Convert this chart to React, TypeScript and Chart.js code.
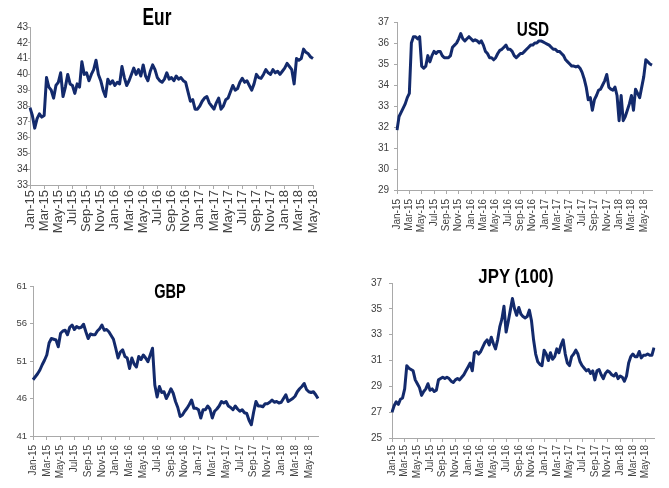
import React, { useEffect, useRef } from 'react';
import { Chart, registerables } from 'chart.js';

Chart.register(...registerables);

const MONTHS = ['Jan', 'Feb', 'Mar', 'Apr', 'May', 'Jun', 'Jul', 'Aug', 'Sep', 'Oct', 'Nov', 'Dec'];
const POINTS_PER_MONTH = 3;
const FIRST_YEAR = 15;

// Eur: Jan-15 .. May-18 (3 readings per month)
const EUR = [
  37.9, 37.4, 36.6, 37.2, 37.5, 37.3, 37.4, 39.8, 39.2, 39.0, 38.5, 39.3,
  39.5, 40.1, 38.6, 39.2, 40.0, 39.4, 39.3, 38.8, 39.4, 39.2, 40.8, 40.0,
  40.1, 39.6, 40.0, 40.3, 40.9, 40.0, 39.6, 39.0, 38.6, 39.7, 39.4, 39.6,
  39.3, 39.5, 39.4, 40.5, 39.8, 39.3, 39.6, 40.0, 40.4, 40.0, 40.3, 39.9,
  40.6, 39.9, 39.6, 40.2, 40.6, 40.3, 39.8, 39.6, 39.5, 39.7, 40.1, 39.7,
  39.8, 39.6, 39.9, 39.7, 39.8, 39.6, 39.5, 38.9, 38.3, 38.4, 37.8, 37.8,
  38.0, 38.3, 38.5, 38.6, 38.2, 38.0, 37.8, 38.2, 38.5, 37.8, 38.0, 38.4,
  38.5, 38.9, 39.3, 39.0, 39.1, 39.5, 39.75, 39.5, 39.6, 39.3, 39.0, 39.4,
  40.0, 39.8, 39.75, 40.0, 40.3, 40.1, 40.0, 40.3, 40.1, 40.2, 40.0, 40.2,
  40.4, 40.7, 40.5, 40.3, 39.4, 41.0, 40.9, 41.0, 41.6, 41.4, 41.3, 41.1,
  41.0,
];

// USD: Jan-15 .. mid Jun-18
const USD = [
  31.85, 32.5, 32.7, 32.9, 33.1, 33.4, 33.6, 36.0, 36.3, 36.3, 36.2, 36.3,
  34.9, 34.8, 34.9, 35.4, 35.1, 35.4, 35.6, 35.5, 35.6, 35.6, 35.4, 35.3,
  35.3, 35.3, 35.4, 35.8, 35.9, 36.0, 36.2, 36.45, 36.2, 36.1, 36.2, 36.3,
  36.2, 36.1, 36.15, 36.1, 36.0, 36.1, 35.9, 35.6, 35.5, 35.3, 35.3, 35.2,
  35.3, 35.5, 35.65, 35.7, 35.8, 35.9, 35.7, 35.7, 35.6, 35.4, 35.3, 35.4,
  35.5, 35.5, 35.6, 35.7, 35.8, 35.9, 35.9, 36.0, 36.0, 36.1, 36.1, 36.05,
  36.0, 35.95, 35.9, 35.8, 35.7, 35.7, 35.6, 35.6, 35.5, 35.4, 35.2, 35.1,
  35.0, 34.9, 34.9, 34.86, 34.9, 34.8, 34.6, 34.3, 33.9, 33.3, 33.4, 32.8,
  33.3, 33.5, 33.75, 33.8, 34.0, 34.2, 34.5, 33.9, 33.8, 33.75, 33.9, 33.5,
  32.3, 33.5, 32.3, 32.5, 32.8, 33.1, 33.5, 32.8, 33.8, 33.6, 33.4, 33.9,
  34.4, 35.2, 35.1, 35.0, 34.95,
];

// GBP: Jan-15 .. mid Jun-18
const GBP = [
  48.5, 48.9, 49.3, 49.8, 50.5, 51.1, 51.8, 53.4, 54.0, 53.9, 53.8, 52.9,
  54.7, 55.0, 55.1, 54.5, 55.5, 55.8, 55.2, 55.6, 55.4, 55.5, 55.9, 54.9,
  54.0, 54.6, 54.5, 54.5, 55.0, 55.3, 55.8, 55.1, 55.2, 54.9, 54.4, 53.9,
  52.7, 51.4, 52.2, 52.5, 51.6, 51.4, 50.0, 51.4, 50.6, 50.2, 51.6, 51.2,
  51.8, 51.4, 50.9, 51.8, 52.7, 47.8, 46.2, 47.6, 46.8, 46.9, 46.0, 46.6,
  47.3, 46.7, 45.6, 44.8, 43.6, 43.8, 44.3, 44.7, 45.2, 45.8, 44.7, 44.7,
  44.5, 43.4, 44.5, 44.5, 45.0, 44.6, 43.4, 44.3, 44.6, 45.0, 45.6, 45.4,
  45.6, 45.0, 44.8, 44.5, 45.0, 44.6, 44.3, 44.5, 44.1, 44.0, 43.1, 42.5,
  44.2, 45.6, 45.0, 45.0, 44.9, 45.3, 45.3, 45.5, 45.8, 45.5, 45.6, 45.4,
  45.5, 46.0, 46.5, 45.6, 45.8, 46.0, 46.3, 46.9, 47.3, 47.6, 48.0, 47.2,
  46.9, 46.8, 46.9, 46.5, 46.0,
];

// JPY (100): Jan-15 .. mid Jun-18
const JPY = [
  27.0, 27.5, 27.8, 27.6, 28.0, 28.1, 28.8, 30.6, 30.4, 30.3, 30.2, 29.5,
  29.2, 28.9, 28.3, 28.6, 28.8, 29.2, 28.7, 28.8, 28.6, 28.7, 29.5, 29.6,
  29.7, 29.6, 29.7, 29.6, 29.4, 29.3, 29.5, 29.6, 29.5, 29.7, 29.9, 30.2,
  30.5, 30.8, 30.2, 31.6, 31.7, 31.5, 31.7, 32.05, 32.4, 32.6, 32.2, 32.8,
  32.3, 31.9, 32.6, 33.6, 34.2, 35.2, 33.2, 34.0, 34.9, 35.8, 35.0, 34.5,
  35.1, 34.6, 34.4, 34.3, 34.4, 34.9, 34.1, 32.6, 31.5, 30.9, 30.7, 30.6,
  31.8, 31.5, 31.0, 31.6, 31.1, 31.3, 31.9, 31.6, 32.2, 32.6, 31.5, 30.8,
  30.6, 31.3, 31.5, 31.8, 31.5, 30.9, 30.6, 30.4, 30.2, 30.3, 30.0, 30.2,
  29.5, 30.2, 30.3, 29.9, 29.6, 30.0, 30.2, 30.1, 29.9, 29.8, 30.0, 29.6,
  29.8, 29.7, 29.4, 29.8, 30.8, 31.3, 31.5, 31.3, 31.3, 31.7, 31.2, 31.4,
  31.4, 31.5, 31.4, 31.4, 32.0,
];

const NARROW = "'Liberation Sans Narrow', 'Liberation Sans', Arial, sans-serif";
const REGULAR = "'Liberation Sans', Arial, sans-serif";
const LINE_COLOR = '#132a6c';
const AXIS_COLOR = '#a9a9a9';
const TICK_TEXT = '#404040';

function dateLabels(n: number): string[] {
  const out: string[] = [];
  for (let i = 0; i < n; i++) {
    const m = Math.floor(i / POINTS_PER_MONTH);
    out.push(`${MONTHS[m % 12]}-${FIRST_YEAR + Math.floor(m / 12)}`);
  }
  return out;
}

function isShownTick(i: number) {
  return i % POINTS_PER_MONTH === 0 && (i / POINTS_PER_MONTH) % 2 === 0;
}

type Panel = {
  title: string;
  data: number[];
  yMin: number;
  yMax: number;
  yStep: number;
  box: [number, number, number, number];
  plot: [number, number, number, number];
  yFont: { family: string; size: number };
  xFont: { family: string; size: number };
  yPad: number;
  yTick: number;
  xPad: number;
  titleX: number;
  titleY: number;
  titleSize: number;
  titleSquash: number;
};

const PANELS: Panel[] = [
  {
    title: 'Eur', data: EUR, yMin: 33, yMax: 43, yStep: 1,
    box: [0, 0, 335, 245], plot: [30, 313, 27, 185],
    yFont: { family: NARROW, size: 10 }, xFont: { family: REGULAR, size: 13 },
    yPad: 0, yTick: 2, xPad: 1, titleX: 157, titleY: 17, titleSize: 24, titleSquash: 0.72,
  },
  {
    title: 'USD', data: USD, yMin: 29, yMax: 37, yStep: 1,
    box: [335, 0, 334, 245], plot: [62, 325, 22, 190],
    yFont: { family: REGULAR, size: 10 }, xFont: { family: REGULAR, size: 10 },
    yPad: 5, yTick: 3, xPad: 5, titleX: 532.5, titleY: 28.3, titleSize: 21, titleSquash: 0.73,
  },
  {
    title: 'GBP', data: GBP, yMin: 41, yMax: 61, yStep: 5,
    box: [0, 245, 335, 243], plot: [33, 327, 41, 191],
    yFont: { family: NARROW, size: 9.5 }, xFont: { family: REGULAR, size: 10 },
    yPad: 3, yTick: 3, xPad: 5, titleX: 169.5, titleY: 290.5, titleSize: 20, titleSquash: 0.73,
  },
  {
    title: 'JPY (100)', data: JPY, yMin: 25, yMax: 37, yStep: 2,
    box: [335, 245, 334, 243], plot: [57, 323, 38, 193],
    yFont: { family: NARROW, size: 10 }, xFont: { family: REGULAR, size: 10 },
    yPad: 7, yTick: 3, xPad: 3, titleX: 515.8, titleY: 275.5, titleSize: 20, titleSquash: 0.84,
  },
];

function PanelChart({ p }: { p: Panel }) {
  const ref = useRef<HTMLCanvasElement>(null);
  useEffect(() => {
    if (!ref.current) return;
    const [, , w, h] = p.box;
    const [pl, pr, pt, pb] = p.plot;
    const labels = dateLabels(p.data.length);
    const chart = new Chart(ref.current, {
      type: 'line',
      data: {
        labels,
        datasets: [{
          data: p.data,
          borderColor: LINE_COLOR,
          borderWidth: 3,
          pointRadius: 0,
          tension: 0,
          fill: false,
          borderJoinStyle: 'round',
        }],
      },
      options: {
        responsive: false,
        animation: false,
        devicePixelRatio: 1,
        layout: { padding: { left: 0, right: w - pr, top: pt, bottom: 0 } },
        plugins: {
          legend: { display: false },
          tooltip: { enabled: false },
          title: { display: false },
        },
        scales: {
          x: {
            type: 'category',
            offset: false,
            border: { display: true, color: AXIS_COLOR, width: 1 },
            grid: {
              display: true,
              drawOnChartArea: false,
              drawTicks: true,
              tickLength: 4,
              color: (ctx: any) => (isShownTick(ctx.index) ? AXIS_COLOR : 'rgba(0,0,0,0)'),
            },
            ticks: {
              autoSkip: false,
              minRotation: 90,
              maxRotation: 90,
              padding: p.xPad,
              color: TICK_TEXT,
              font: p.xFont,
              callback: (_v: any, i: number) => (isShownTick(i) ? labels[i] : ''),
            },
            afterFit: (s: any) => { s.height = h - pb; },
          },
          y: {
            min: p.yMin,
            max: p.yMax,
            border: { display: true, color: AXIS_COLOR, width: 1 },
            grid: { display: true, drawOnChartArea: false, drawTicks: true, tickLength: p.yTick, color: AXIS_COLOR },
            ticks: { stepSize: p.yStep, padding: p.yPad, color: TICK_TEXT, font: p.yFont },
            afterFit: (s: any) => { s.width = pl; },
          },
        },
      },
    } as any);
    return () => chart.destroy();
  }, [p]);
  const [x, y, w, h] = p.box;
  return (
    <canvas
      ref={ref}
      width={w}
      height={h}
      style={{ position: 'absolute', left: x, top: y, width: w, height: h }}
    />
  );
}

export default function App() {
  return (
    <div style={{ position: 'fixed', left: 0, top: 0, width: 669, height: 488, background: '#ffffff', overflow: 'hidden' }}>
      {PANELS.map((p) => (
        <PanelChart key={p.title} p={p} />
      ))}
      {PANELS.map((p) => (
        <div
          key={'t' + p.title}
          style={{
            position: 'absolute',
            left: p.titleX,
            top: p.titleY - 0.488 * p.titleSize,
            transform: `translateX(-50%) scaleX(${p.titleSquash})`,
            transformOrigin: '50% 50%',
            fontFamily: NARROW,
            fontWeight: 'bold',
            fontSize: p.titleSize,
            lineHeight: `${p.titleSize}px`,
            color: '#000000',
            whiteSpace: 'nowrap',
          }}
        >
          {p.title}
        </div>
      ))}
    </div>
  );
}
